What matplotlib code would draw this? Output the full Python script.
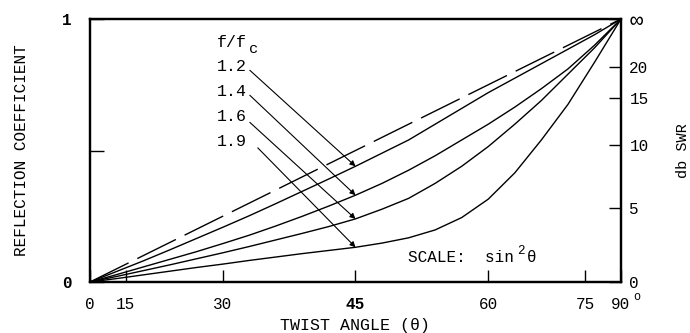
import numpy as np
import matplotlib
matplotlib.use("Agg")
import matplotlib.pyplot as plt

plt.rcParams['font.family'] = ['Liberation Mono', 'DejaVu Sans Mono', 'DejaVu Sans']

# ---- data (x = sin^2(theta), y = reflection coefficient) ----
x_grid = [0, 0.05, 0.1, 0.15, 0.2, 0.25, 0.3, 0.35, 0.4, 0.45, 0.5,
          0.55, 0.6, 0.65, 0.7, 0.75, 0.8, 0.85, 0.9, 0.95, 1.0]
r_12 = [0, 0.040, 0.080, 0.122, 0.165, 0.208, 0.252, 0.298, 0.345, 0.392, 0.440,
        0.490, 0.540, 0.600, 0.660, 0.720, 0.775, 0.830, 0.885, 0.940, 1.0]
r_14 = [0, 0.028, 0.057, 0.086, 0.115, 0.146, 0.178, 0.213, 0.250, 0.289, 0.330,
        0.375, 0.425, 0.480, 0.540, 0.600, 0.665, 0.735, 0.810, 0.900, 1.0]
r_16 = [0, 0.021, 0.043, 0.065, 0.088, 0.111, 0.135, 0.160, 0.185, 0.211, 0.240,
        0.277, 0.318, 0.375, 0.440, 0.515, 0.600, 0.690, 0.790, 0.890, 1.0]
r_19 = [0, 0.013, 0.027, 0.041, 0.055, 0.068, 0.082, 0.095, 0.108, 0.120, 0.132,
        0.148, 0.168, 0.198, 0.245, 0.315, 0.415, 0.540, 0.675, 0.835, 1.0]
dashed_x = [0, 1.0]
dashed_r = [0, 1.0]

series_labels = ['1.2', '1.4', '1.6', '1.9']
series_vals = [r_12, r_14, r_16, r_19]

angle_ticks = [0, 15, 30, 45, 60, 75, 90]
angle_labels = ['0', '15', '30', '45', '60', '75', '90']
db_ticks = [0, 5, 10, 15, 20]
db_labels = ['0', '5', '10', '15', '20', '∞']
arrow_angle = 45

fig = plt.figure(figsize=(6.9, 3.33), dpi=100)
ax = fig.add_axes([90/690, 1 - 282/333, 531/690, 263/333])

lw_ax = 1.6
for s in ax.spines.values():
    s.set_linewidth(lw_ax)

# curves
for vals in series_vals:
    ax.plot(x_grid, vals, color='black', lw=1.0, solid_joinstyle='round')
ln, = ax.plot(dashed_x, dashed_r, color='black', lw=1.0)
ln.set_dashes([31, 7])

ax.set_xlim(0, 1)
ax.set_ylim(0, 1)

xt = np.sin(np.radians(angle_ticks)) ** 2
ax.set_xticks(xt)
ax.set_xticklabels(angle_labels, fontsize=11.5)
for lab, a in zip(ax.get_xticklabels(), angle_ticks):
    if a == 45:
        lab.set_fontweight('bold')
ax.tick_params(axis='x', direction='in', length=9, width=1.0, pad=11)
# degree mark on the 90 label
ax.annotate('o', xy=(xt[-1], 0), xycoords='data', xytext=(9, -10.5),
            textcoords='offset points', fontsize=8.5, ha='left', va='center',
            annotation_clip=False)
ax.set_yticks([0, 0.5, 1])
ax.set_yticklabels(['0', '', '1'], fontsize=11.5, fontweight='bold')
ax.tick_params(axis='y', direction='in', length=10, width=1.0, pad=13)

ax.set_xlabel('TWIST ANGLE (θ)', fontsize=12, labelpad=4)
ax.set_ylabel('REFLECTION COEFFICIENT', fontsize=11.5, labelpad=24)

# right axis (db SWR)
ax2 = ax.twinx()
ax2.set_ylim(0, 1)
swr = 10 ** (np.array(db_ticks) / 20.0)
r_db = list((swr - 1) / (swr + 1)) + [1.0]
ax2.set_yticks(r_db)
ax2.set_yticklabels(db_labels, fontsize=11.5)
ax2.get_yticklabels()[-1].set_fontsize(16)
ax2.tick_params(axis='y', direction='in', length=9, width=1.0, pad=6)
ax2.set_ylabel('db SWR', fontsize=11, labelpad=20)
for s in ax2.spines.values():
    s.set_linewidth(lw_ax)

# labels and arrows
tx = 0.239
ax.text(tx, 0.912, 'f/f', transform=ax.transAxes, fontsize=12,
        va='center', ha='left')
ax.annotate('c', xy=(tx, 0.912), xycoords='axes fraction', xytext=(23, -5),
            textcoords='offset points', fontsize=11, va='center', ha='left')
label_y = [0.82, 0.725, 0.63, 0.534]
start_pts = [(0.301, 0.805), (0.301, 0.71), (0.301, 0.607), (0.316, 0.51)]
xa = np.sin(np.radians(arrow_angle)) ** 2
for lab, vals, ly, sp in zip(series_labels, series_vals, label_y, start_pts):
    ax.text(tx, ly, lab, transform=ax.transAxes, fontsize=12, va='center', ha='left')
    ya = np.interp(xa, x_grid, vals)
    ax.annotate('', xy=(xa, ya), xycoords='data', xytext=sp, textcoords='axes fraction',
                arrowprops=dict(arrowstyle='-|>', color='black', lw=0.8,
                                mutation_scale=8, shrinkA=0, shrinkB=0))

ax.text(0.598, 0.075, 'SCALE:  sin', transform=ax.transAxes,
        fontsize=11.5, va='baseline', ha='left')
ax.annotate('2', xy=(0.598, 0.075), xycoords='axes fraction', xytext=(79, 6),
            textcoords='offset points', fontsize=9, va='baseline', ha='left')
ax.annotate('θ', xy=(0.598, 0.075), xycoords='axes fraction', xytext=(86, 0),
            textcoords='offset points', fontsize=11.5, va='baseline', ha='left')

fig.savefig('out.png', dpi=100)
